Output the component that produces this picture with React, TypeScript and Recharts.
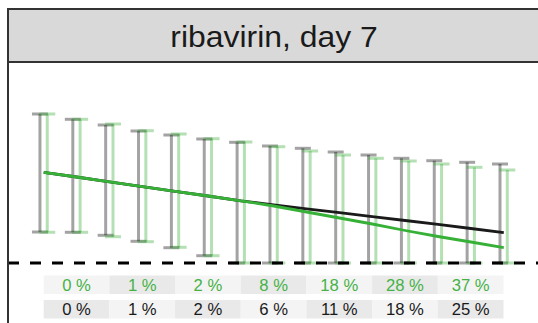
import React from 'react';
import {
  ComposedChart,
  Bar,
  Line,
  ErrorBar,
  XAxis,
  YAxis,
  ReferenceLine,
  ReferenceArea,
} from 'recharts';

const timePoints = [0, 1, 2, 3, 4, 5, 6, 7, 8, 9, 10, 11, 12, 13, 14];

const grayUpper = [74.5, 71.85, 69, 66, 64, 62, 60.35, 58.5, 57.35, 55.5, 54, 52.35, 51.15, 50.35, 49.5];
const grayLower = [15.5, 15.35, 13.85, 10.85, 7.65, 3.65, 0, 0, 0, 0, 0, 0, 0, 0, 0];
const greenUpper = [74.5, 71.85, 69.5, 66.15, 64.5, 62.15, 60.5, 58.15, 56, 54, 52.35, 51, 49.5, 47.85, 46.5];
const greenLower = [15.35, 15.35, 13.15, 10.65, 7.85, 3.65, 0, 0, 0, 0, 0, 0, 0, 0, 0];

const blackLine = [45.35, 43, 40.6, 38.2, 35.85, 33.5, 31.1, 29.1, 27.1, 25.15, 23.2, 21.25, 19.3, 17.25, 15.15];
const greenLine = [45.35, 43, 40.6, 38.2, 35.85, 33.5, 31.1, 28.5, 25.5, 22.5, 19.5, 16.25, 13.25, 10.5, 7.65];

const greenPct = ['0 %', '1 %', '2 %', '8 %', '18 %', '28 %', '37 %'];
const blackPct = ['0 %', '1 %', '2 %', '6 %', '11 %', '18 %', '25 %'];

const titleText = 'ribavirin, day 7';

const data = timePoints.map((t, i) => {
  const gMid = (grayUpper[i] + grayLower[i]) / 2;
  const grMid = (greenUpper[i] + greenLower[i]) / 2;
  return {
    t,
    grayMid: gMid,
    grayErr: [gMid - grayLower[i], grayUpper[i] - gMid],
    greenMid: grMid,
    greenErr: [grMid - greenLower[i], greenUpper[i] - grMid],
    black: blackLine[i],
    green: greenLine[i],
  };
});

const FONT = '"Liberation Sans", Arial, Helvetica, sans-serif';
const GREEN = '#36b036';
const GREEN_TEXT = '#46b246';

const makeCellLabel = (text: string, color: string) => (props: any) => {
  const vb = props.viewBox || {};
  const cx = (vb.x ?? 0) + (vb.width ?? 0) / 2;
  const cy = (vb.y ?? 0) + (vb.height ?? 0) / 2;
  return (
    <text
      x={cx}
      y={cy}
      dy="0.36em"
      textAnchor="middle"
      fill={color}
      fontSize={16}
      fontFamily={FONT}
      transform={`translate(${cx} 0) scale(1.04 1) translate(${-cx} 0)`}
    >
      {text}
    </text>
  );
};

export default function App() {
  return (
    <div style={{ position: 'absolute', left: 0, top: 0, width: 538, height: 323, background: '#fff', overflow: 'hidden' }}>
      <ComposedChart
        width={538}
        height={323}
        data={data}
        margin={{ top: 63, right: 0, bottom: 0, left: 8 }}
        barGap={0}
      >
        <XAxis dataKey="t" type="category" hide padding={{ left: 19.3, right: 17.8 }} />
        <XAxis
          xAxisId="num"
          type="number"
          domain={[0, 14]}
          allowDataOverflow
          hide
          padding={{ left: 35.7, right: 34.5 }}
        />
        <YAxis type="number" domain={[-30, 100]} allowDataOverflow hide />

        {greenPct.map((p, i) => (
          <ReferenceArea
            key={`g${i}`}
            xAxisId="num"
            x1={timePoints[2 * i]}
            x2={timePoints[2 * i + 2]}
            y1={-6.25}
            y2={-15.5}
            fill={i % 2 === 0 ? '#f4f4f4' : '#e9e9e9'}
            fillOpacity={1}
            stroke="none"
            label={{ position: 'center', content: makeCellLabel(p, GREEN_TEXT) }}
          />
        ))}
        {blackPct.map((p, i) => (
          <ReferenceArea
            key={`b${i}`}
            xAxisId="num"
            x1={timePoints[2 * i]}
            x2={timePoints[2 * i + 2]}
            y1={-18.5}
            y2={-27.75}
            fill={i % 2 === 0 ? '#e9e9e9' : '#f4f4f4'}
            fillOpacity={1}
            stroke="none"
            label={{ position: 'center', content: makeCellLabel(p, '#1a1a1a') }}
          />
        ))}

        <Bar dataKey="grayMid" barSize={7.3} fill="none" fillOpacity={0} isAnimationActive={false}>
          <ErrorBar dataKey="grayErr" width={8} strokeWidth={3} stroke="#000" strokeOpacity={0.36} direction="y" />
        </Bar>
        <Bar dataKey="greenMid" barSize={7.3} fill="none" fillOpacity={0} isAnimationActive={false}>
          <ErrorBar dataKey="greenErr" width={8} strokeWidth={3} stroke="#33aa33" strokeOpacity={0.37} direction="y" />
        </Bar>

        <ReferenceLine y={0} stroke="#000" strokeWidth={3} strokeDasharray="11 11" />

        <Line dataKey="black" type="linear" stroke="#1a1a1a" strokeWidth={2.8} dot={false} isAnimationActive={false} />
        <Line dataKey="green" type="linear" stroke={GREEN} strokeWidth={2.8} dot={false} isAnimationActive={false} />
      </ComposedChart>

      <div
        style={{
          position: 'absolute',
          left: 7,
          top: 8,
          width: 545,
          height: 55,
          boxSizing: 'border-box',
          border: '2px solid #333',
          background: '#d9d9d9',
        }}
      >
        <span
          style={{
            position: 'absolute',
            left: 265,
            top: '50%',
            transform: 'translate(-50%, calc(-50% + 1px)) scaleX(1.1)',
            fontFamily: FONT,
            fontSize: 29,
            lineHeight: 1,
            color: '#1a1a1a',
            whiteSpace: 'nowrap',
          }}
        >
          {titleText}
        </span>
      </div>
      <div style={{ position: 'absolute', left: 7, top: 63, width: 2, height: 260, background: '#333' }} />
    </div>
  );
}
